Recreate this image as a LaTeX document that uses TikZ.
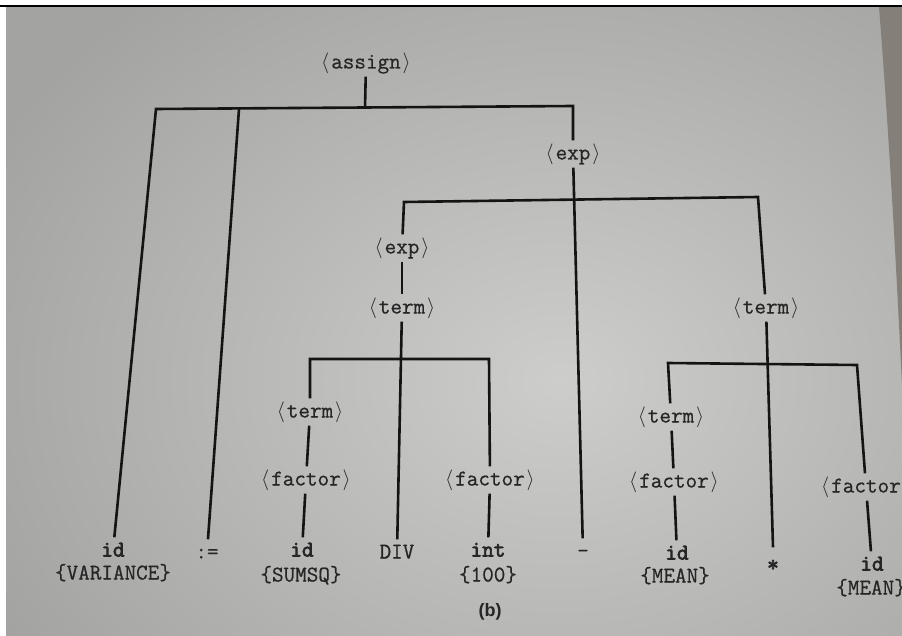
\documentclass[tikz,border=0pt]{standalone}
\usepackage{fontspec}
\newfontfamily\treefont[FakeBold=0.7, BoldFont={Latin Modern Mono}, BoldFeatures={FakeBold=3.2}]{Latin Modern Mono}
\newfontfamily\capfont{Liberation Sans}
\definecolor{ink}{HTML}{262626}
\definecolor{linec}{HTML}{141414}
\definecolor{pagein}{HTML}{CDCDCB}
\definecolor{pageout}{HTML}{A3A3A1}
\definecolor{edgedark}{HTML}{857F79}
\newcommand\lbr{\makebox[12pt]{$\langle$}}
\newcommand\rbr{\makebox[12pt]{$\rangle$}}
\tikzset{
  sym/.style={font=\treefont\fontsize{22.5}{26}\selectfont, text=ink, inner sep=2.5pt,
              text height=16.5pt, text depth=5.5pt},
  leaf/.style={sym, font=\treefont\bfseries\fontsize{22.5}{26}\selectfont},
  edge/.style={draw=linec, line width=2.6pt, line join=miter},
}
\begin{document}
\begin{tikzpicture}[x=1pt,y=-1pt]
\useasboundingbox (0,0) rectangle (902,636);
\begin{scope}
\clip (0,0) rectangle (902,636);
% photo background
\fill[white] (0,0) rectangle (902,636);
\begin{scope}
\clip (6,7) rectangle (902,636);
\shade[inner color=pagein, outer color=pageout] (-80,-120) rectangle (1200,880);
\fill[edgedark] (879,7) -- (902,7) -- (902,385) .. controls (896,260) and (888,120) .. (879,7);
\end{scope}
\draw[black, line width=2pt] (0,6) -- (902,6);

% nodes
\node[sym] (assign)  at (366,63)  {\lbr assign\rbr};
\node[sym] (exp1)    at (573,154) {\lbr exp\rbr};
\node[sym] (exp2)    at (402,248) {\lbr exp\rbr};
\node[sym] (term1)   at (402,308) {\lbr term\rbr};
\node[sym] (term2)   at (766,308) {\lbr term\rbr};
\node[sym] (term3)   at (310,412) {\lbr term\rbr};
\node[sym] (factor1) at (306,480) {\lbr factor\rbr};
\node[sym] (factor2) at (490,480) {\lbr factor\rbr};
\node[sym] (term4)   at (671,417) {\lbr term\rbr};
\node[sym] (factor3) at (674,482) {\lbr factor\rbr};
\node[sym] (factor4) at (866,487) {\lbr factor\rbr};

\node[leaf] (id1)      at (113,551) {id};
\node[sym]  (v1)       at (113,574) {\{VARIANCE\}};
\node[sym]  (assignop) at (207,553) {:=};
\node[leaf] (id2)      at (302,551) {id};
\node[sym]  (v2)       at (301,576) {\{SUMSQ\}};
\node[sym]  (div)      at (397,553) {DIV};
\node[leaf] (int)      at (488,551) {int};
\node[sym]  (v3)       at (488,576) {\{100\}};
\node[sym]  (minus)    at (583,552) {-};
\node[leaf] (id3)      at (677,554) {id};
\node[sym]  (v4)       at (675,577) {\{MEAN\}};
\node[leaf] (star)     at (773,566) {*};
\node[leaf] (id4)      at (872,565) {id};
\node[sym]  (v5)       at (871,589) {\{MEAN\}};
\node[font=\capfont\bfseries\fontsize{18}{20}\selectfont, text=ink] (cap) at (490,612) {(b)};

% bar junctions
\coordinate (b1L) at (156,109);
\coordinate (b1c) at (239,109);
\coordinate (b1M) at (365,108);
\coordinate (b1R) at (573,106);
\coordinate (b2L) at (404,202);
\coordinate (b2R) at (758,197);
\coordinate (b3L) at (310,359);
\coordinate (b3R) at (489,359);
\coordinate (b4L) at (668,363);
\coordinate (b4R) at (857,365);

% connectors
\draw[edge] (id1) -- (b1L) -- (b1R) -- (exp1);
\draw[edge] (assign) -- (b1M);
\draw[edge] (b1c) -- (assignop);
\draw[edge] (exp1) -- (minus);
\draw[edge] (exp2) -- (b2L) -- (b2R) -- (term2);
\draw[edge] (exp2) -- (term1);
\draw[edge] (term1) -- (div);
\draw[edge] (term3) -- (b3L) -- (b3R) -- (factor2);
\draw[edge] (term3) -- (factor1);
\draw[edge] (factor1) -- (id2);
\draw[edge] (factor2) -- (int);
\draw[edge] (term2) -- ([yshift=5pt]star.north);
\draw[edge] (term4) -- (b4L) -- (b4R) -- (factor4);
\draw[edge] (term4) -- (factor3);
\draw[edge] (factor3) -- (id3);
\draw[edge] (factor4) -- (id4);
\end{scope}
\end{tikzpicture}
\end{document}
